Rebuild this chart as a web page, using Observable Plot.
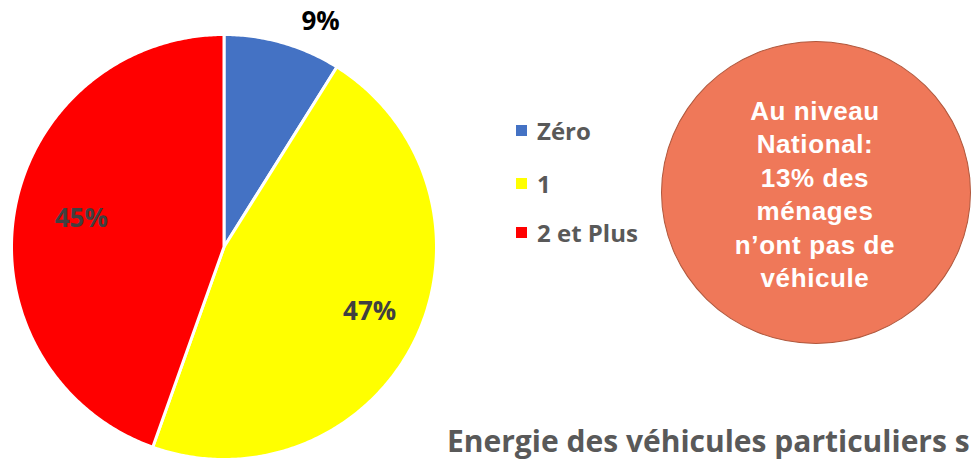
<!DOCTYPE html>
<html>
<head>
<meta charset="utf-8">
<script src="https://cdn.jsdelivr.net/npm/d3@7"></script>
<script src="https://cdn.jsdelivr.net/npm/@observablehq/plot@0.6"></script>
<style>
  html, body { margin: 0; padding: 0; background: #fff; }
  #wrap { position: relative; width: 971px; height: 461px; overflow: hidden; }
  #wrap svg { position: absolute; left: 0; top: 0; }
  .leg { position: absolute; left: 516px; font-family: "Open Sans", sans-serif; font-weight: 700; font-size: 24px; color: #595959; display: flex; align-items: center; height: 30px; white-space: nowrap; }
  .leg span.sw { display: inline-block; width: 11px; height: 11px; margin-right: 10px; }
  #bubble { position: absolute; left: 661px; top: 41px; width: 310px; height: 303px; border-radius: 50%; background: #EF7859; border: 1.5px solid #B0583D; display: flex; align-items: center; justify-content: center; text-align: center; color: #fff; font-family: "Liberation Sans", Arial, sans-serif; font-weight: 700; font-size: 26px; line-height: 33.5px; letter-spacing: 0.6px; box-sizing: border-box; padding-top: 5px; padding-right: 2px; }
  #caption { position: absolute; left: 447px; top: 423px; font-family: "Open Sans", sans-serif; font-weight: 700; font-size: 30px; line-height: 36px; color: #595959; white-space: nowrap; }
</style>
</head>
<body>
<div id="wrap"></div>
<script>
// ---- data ----
const categories = ["Zéro", "1", "2 et Plus"];
const shares = [9, 47, 45];
const colors = ["#4472C4", "#FFFF00", "#FF0000"];
const labels = ["9%", "47%", "45%"];
const bubbleLines = ["Au niveau", "National:", "13% des", "ménages", "n\u2019ont pas de", "véhicule"];
const captionText = "Energie des véhicules particuliers s";

// ---- geometry from data ----
const arcs = d3.pie().sort(null).value(d => d.v)(categories.map((c, i) => ({c, v: shares[i]})));
const slicePts = [];
arcs.forEach(a => {
  const n = Math.max(4, Math.ceil((a.endAngle - a.startAngle) / 0.01));
  slicePts.push({cat: a.data.c, x: 0, y: 0});
  for (let k = 0; k <= n; k++) {
    const t = a.startAngle + (a.endAngle - a.startAngle) * k / n;
    slicePts.push({cat: a.data.c, x: Math.sin(t), y: Math.cos(t)});
  }
});
const labelData = arcs.map((a, i) => {
  const m = (a.startAngle + a.endAngle) / 2;
  const outside = shares[i] < 15;
  const r = outside ? 1.15 : 0.72;
  return {cat: a.data.c, label: labels[i], x: r * Math.sin(m), y: r * Math.cos(m), outside};
});

const chart = Plot.plot({
  width: 971,
  height: 461,
  margin: 0,
  x: {domain: [-1, 1], range: [11, 436], axis: null},
  y: {domain: [-1, 1], range: [459, 34], axis: null},
  color: {domain: categories, range: colors},
  style: {background: "transparent", overflow: "visible"},
  marks: [
    Plot.line(slicePts, {x: "x", y: "y", z: "cat", fill: "cat", stroke: "white", strokeWidth: 3, strokeLinejoin: "round", curve: "linear-closed"}),
    Plot.text(labelData.filter(d => !d.outside), {x: "x", y: "y", text: "label", fill: "#404040", fontSize: 26, fontWeight: 700, fontFamily: "Open Sans", dx: 8, dy: -2}),
    Plot.text(labelData.filter(d => d.outside), {x: "x", y: "y", text: "label", fill: "#000000", fontSize: 26, fontWeight: 700, fontFamily: "Open Sans", dx: 29, dy: 10})
  ]
});
const wrap = document.getElementById("wrap");
wrap.appendChild(chart);

// legend
const legTops = [115, 168, 217];
categories.forEach((c, i) => {
  const d = document.createElement("div");
  d.className = "leg";
  d.style.top = legTops[i] + "px";
  d.innerHTML = `<span class="sw" style="background:${colors[i]}"></span>`;
  d.appendChild(document.createTextNode(c));
  wrap.appendChild(d);
});

// annotation bubble
const b = document.createElement("div");
b.id = "bubble";
const inner = document.createElement("div");
bubbleLines.forEach((s, i) => {
  if (i) inner.appendChild(document.createElement("br"));
  inner.appendChild(document.createTextNode(s));
});
b.appendChild(inner);
wrap.appendChild(b);

// caption
const cap = document.createElement("div");
cap.id = "caption";
cap.textContent = captionText;
wrap.appendChild(cap);
</script>
</body>
</html>
